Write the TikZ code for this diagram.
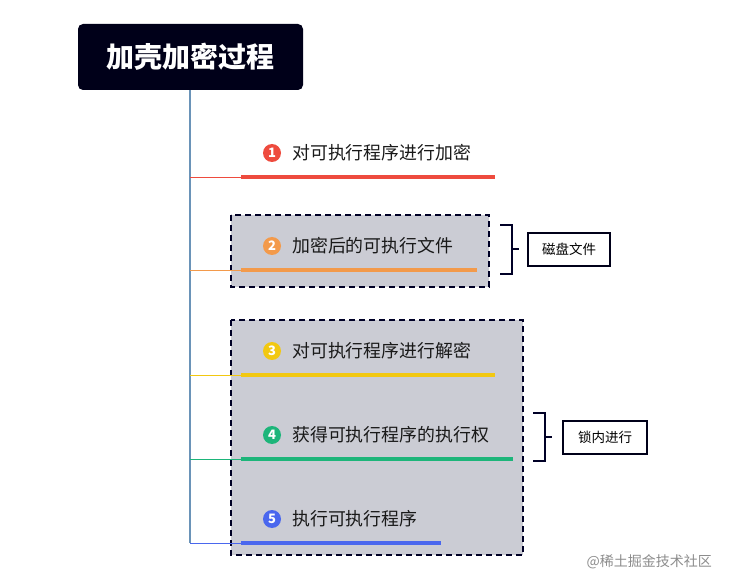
\documentclass[tikz,border=0pt]{standalone}
\usepackage{fontspec}
\newfontfamily\cjk{Noto Sans CJK SC}
\begin{document}
\begin{tikzpicture}[x=1pt,y=-1pt,
  every node/.style={font=\cjk},
  item/.style={anchor=west,inner sep=0pt,text=black!90,font=\cjk\fontsize{17.9}{20}\selectfont},
  num/.style={circle,fill=#1,inner sep=0pt,minimum size=18pt,text=white,font=\cjk\bfseries\fontsize{13}{13}\selectfont},
  stem/.style={draw=#1,line width=0.8pt},
  bar/.style={draw=#1,line width=4pt},
  group/.style={draw=black!85!blue,line width=1.6pt,dash pattern=on 6pt off 4pt},
  bracketline/.style={draw=black!85!blue,line width=2pt},
  labelbox/.style={draw=black!90!blue,line width=1.5pt,fill=white,minimum width=82pt,minimum height=33pt,inner sep=0pt,font=\cjk\fontsize{13.5}{15}\selectfont}
]
\useasboundingbox (0,0) rectangle (729,588);
\definecolor{cRed}{HTML}{EE4B3E}
\definecolor{cOrange}{HTML}{F39A4B}
\definecolor{cYellow}{HTML}{F2C811}
\definecolor{cGreen}{HTML}{1DB57A}
\definecolor{cBlue}{HTML}{4A67EE}
\definecolor{cTrunk}{HTML}{6A93B8}
\definecolor{cBox}{HTML}{CBCCD4}

% dashed group boxes
\path[group,fill=cBox] (231,215) rectangle (489,287);
\path[group,fill=cBox] (231,320) rectangle (523,555);

% title
\node[fill=black!90!blue,rounded corners=5pt,minimum width=225pt,minimum height=66pt,text=white,font=\cjk\bfseries\fontsize{28}{30}\selectfont] (title) at (190.5,57) {加壳加密过程};

% trunk
\coordinate (b1) at (190,177);
\coordinate (b2) at (190,270);
\coordinate (b3) at (190,375);
\coordinate (b4) at (190,459);
\coordinate (b5) at (190,543);
\draw[cTrunk,line width=1.2pt] (title.south -| b1) -- (b5);

% branch ends
\coordinate (s1) at (241,177); \coordinate (e1) at (495,177);
\coordinate (s2) at (241,270); \coordinate (e2) at (477,270);
\coordinate (s3) at (241,375); \coordinate (e3) at (495,375);
\coordinate (s4) at (241,459); \coordinate (e4) at (513,459);
\coordinate (s5) at (241,543); \coordinate (e5) at (441,543);

\draw[stem=cRed] (b1) -- (s1);
\draw[bar=cRed] (s1) -- (e1);
\draw[stem=cOrange] (b2) -- (s2);
\draw[bar=cOrange] (s2) -- (e2);
\draw[stem=cYellow] (b3) -- (s3);
\draw[bar=cYellow] (s3) -- (e3);
\draw[stem=cGreen] (b4) -- (s4);
\draw[bar=cGreen] (s4) -- (e4);
\draw[stem=cBlue] (b5) -- (s5);
\draw[bar=cBlue] (s5) -- (e5);

% numbers and texts
\node[num=cRed] (n1) at (272,153) {1};
\node[item] (t1) at (292,153) {对可执行程序进行加密};
\node[num=cOrange] (n2) at (272,246) {2};
\node[item] (t2) at (292,246) {加密后的可执行文件};
\node[num=cYellow] (n3) at (272,351) {3};
\node[item] (t3) at (292,351) {对可执行程序进行解密};
\node[num=cGreen] (n4) at (272,435) {4};
\node[item] (t4) at (292,435) {获得可执行程序的执行权};
\node[num=cBlue] (n5) at (272,519) {5};
\node[item] (t5) at (292,519) {执行可执行程序};

% brackets and labels
\draw[bracketline] (500,225) -- (512,225) -- (512,274) -- (500,274);
\coordinate (k1) at (512,249.5);
\node[labelbox] (L1) at (569,249.5) {磁盘文件};
\draw[bracketline] (k1) -- (519,249.5);

\draw[bracketline] (533,413) -- (545,413) -- (545,461) -- (533,461);
\coordinate (k2) at (545,437);
\node[labelbox,minimum width=84pt] (L2) at (605,437.5) {锁内进行};
\draw[bracketline] (k2) -- (552,437);

% watermark
\node[anchor=east,text=black!45,font=\cjk\fontsize{14}{16}\selectfont,inner sep=0pt] (wm) at (712,562) {@稀土掘金技术社区};
\end{tikzpicture}
\end{document}
